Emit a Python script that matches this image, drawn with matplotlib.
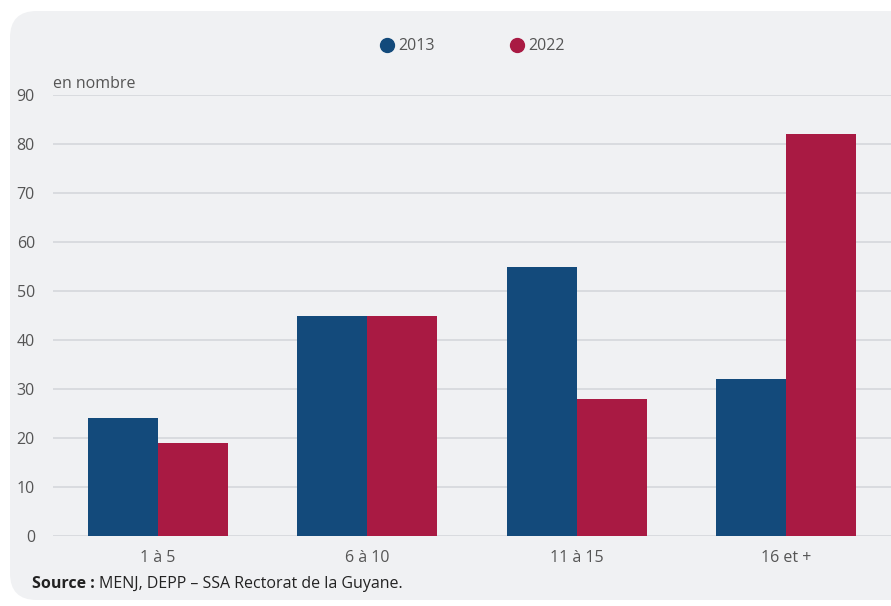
import matplotlib
matplotlib.use("Agg")
import matplotlib.pyplot as plt
from matplotlib.patches import FancyBboxPatch
import numpy as np

categories = ["1 à 5", "6 à 10", "11 à 15", "16 et +"]
series_names = ["2013", "2022"]
values_2013 = [24, 45, 55, 32]
values_2022 = [19, 45, 28, 82]
yticks = [0, 10, 20, 30, 40, 50, 60, 70, 80, 90]

plt.rcParams['font.family'] = ['Open Sans', 'DejaVu Sans']

W, H = 891, 606
fig = plt.figure(figsize=(W/100, H/100), dpi=100)
fig.patch.set_facecolor('white')

bg = FancyBboxPatch((10/W, 6/H), (W + 30)/W, (600 - 11)/H,
                    boxstyle="round,pad=0,rounding_size=0.03",
                    transform=fig.transFigure, facecolor='#f0f1f3',
                    edgecolor='none', zorder=-5, mutation_aspect=W/H)
fig.patches.append(bg)

ax = fig.add_axes([53/W, (H - 536)/H, (W - 53)/W, (536 - 95)/H])
ax.set_facecolor('none')
ax.set_zorder(2)

c_blue = '#134a7b'
c_red = '#a91a43'
x = np.arange(len(categories))
bw = 0.334
ax.bar(x - bw/2, values_2013, bw, color=c_blue, zorder=3)
ax.bar(x + bw/2, values_2022, bw, color=c_red, zorder=3)

ax.set_xlim(-0.5, 3.5)
ax.set_ylim(0, 90)
ax.set_yticks(yticks)
ax.set_xticks(x)
ax.set_xticklabels(categories)
ax.grid(axis='y', color='#d3d5d9', linewidth=1.1, zorder=1)
ax.set_axisbelow(True)
for s in ax.spines.values():
    s.set_visible(False)
ax.tick_params(axis='both', length=0, labelsize=11.5, labelcolor='#555555')
ax.tick_params(axis='y', pad=13)
ax.tick_params(axis='x', pad=10)

fig.text(53/W, 1 - 84/H, "en nombre", fontsize=11.5, color='#555555', va='center', ha='left')

# legend
for xm, name, col in [(387, series_names[0], c_blue), (517, series_names[1], c_red)]:
    fig.add_artist(plt.Line2D([xm/W], [1 - 45/H], marker='o', markersize=10,
                              color=col, linestyle='none', transform=fig.transFigure))
    fig.text((xm + 11)/W, 1 - 45.5/H, name, fontsize=11.5, color='#555555', va='center', ha='left')

t1 = fig.text(32/W, 1 - 583.5/H, "Source :", fontsize=11.5, fontweight='bold', color='#222222', va='center', ha='left')
fig.canvas.draw()
bb = t1.get_window_extent()
fig.text((bb.x1 + 4)/W, 1 - 583.5/H, "MENJ, DEPP – SSA Rectorat de la Guyane.", fontsize=11.5,
         color='#222222', va='center', ha='left')

fig.savefig("out.png", dpi=100)
